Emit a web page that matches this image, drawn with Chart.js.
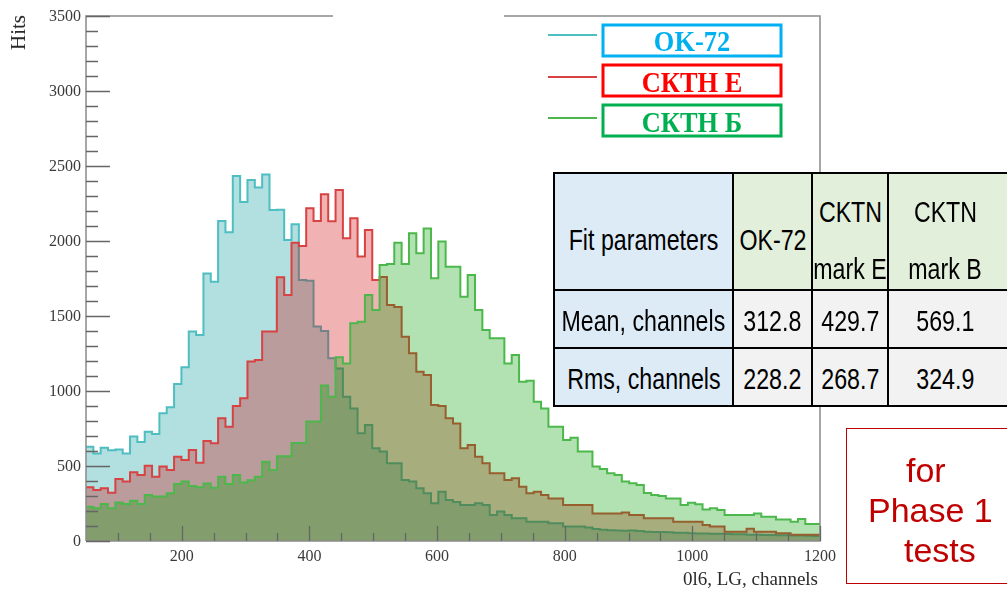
<!DOCTYPE html>
<html>
<head>
<meta charset="utf-8">
<title>Hits</title>
<script src="https://cdn.jsdelivr.net/npm/chart.js@4.4.1/dist/chart.umd.min.js"></script>
<style>
html, body { margin: 0; padding: 0; background: #fff; width: 1007px; height: 592px; overflow: hidden; }
#painel { position: relative; width: 1007px; height: 592px; overflow: hidden; }
#grafico { position: absolute; left: 0; top: 0; }
.celula { position: absolute; box-sizing: border-box; border: 2px solid #000; white-space: nowrap;
          display: flex; flex-direction: column; align-items: center; justify-content: flex-start;
          font-family: "Liberation Sans", Arial, sans-serif; font-size: 29px; color: #000; }
.celula span { display: block; transform: scaleX(0.8); }
#fase { position: absolute; left: 846px; top: 428px; width: 182px; height: 156px; box-sizing: border-box;
        border: 1.5px solid #c00000; color: #c00000; text-align: left; padding-top: 21px;
        font-family: "Liberation Sans", Arial, sans-serif; font-size: 34px; line-height: 40px; }
#fase div { position: relative; }
</style>
</head>
<body>
<div id="painel">
  <canvas id="grafico" width="1007" height="592"></canvas>
  <div id="tabela"></div>
  <div id="fase"><div style="left:59px">for</div><div style="left:21px">Phase 1</div><div style="left:57px">tests</div></div>
</div>
<script>
// canais: 100 bins de 11.5 entre 50 e 1200
const canalInicial = 50;
const larguraBin = 11.5;

const ok72 = [629, 584, 622, 605, 610, 584, 696, 660, 729, 713,
              851, 891, 1047, 1158, 1396, 1373, 1784, 1729, 2133, 2058,
              2433, 2260, 2407, 2356, 2444, 2207, 2209, 2007, 2111, 1740,
              1735, 1430, 1400, 1218, 1150, 962, 884, 718, 773, 618,
              596, 518, 518, 407, 396, 351, 318, 251, 329, 273,
              260, 240, 240, 251, 240, 173, 196, 173, 151, 151,
              129, 129, 129, 118, 118, 96, 96, 96, 90, 80,
              75, 72, 70, 68, 70, 66, 62, 60, 60, 58,
              55, 55, 52, 50, 50, 48, 48, 46, 45, 45,
              42, 42, 40, 40, 38, 38, 36, 36, 35, 34];

const cktnE = [358, 340, 351, 322, 413, 396, 458, 440, 502, 429,
               496, 473, 562, 540, 607, 522, 667, 651, 818, 762,
               900, 951, 1196, 1207, 1396, 1396, 1758, 1640, 1989, 1967,
               2218, 2133, 2311, 2131, 2340, 2018, 2151, 1896, 2073, 1740,
               1760, 1573, 1560, 1362, 1251, 1129, 1107, 907, 900, 818,
               784, 618, 640, 562, 518, 451, 451, 407, 418, 362,
               318, 329, 307, 284, 284, 240, 240, 240, 240, 184,
               184, 184, 184, 190, 173, 173, 151, 151, 151, 151,
               129, 129, 129, 129, 107, 96, 96, 62, 62, 62,
               81, 62, 62, 62, 52, 52, 41, 41, 41, 41];

const cktnB = [229, 218, 247, 218, 256, 247, 269, 247, 307, 296,
               296, 318, 380, 396, 367, 358, 384, 355, 429, 380,
               440, 390, 405, 429, 529, 473, 565, 565, 653, 653,
               796, 796, 1036, 962, 1225, 1184, 1451, 1462, 1640, 1540,
               1840, 1847, 1989, 1847, 2051, 1918, 2084, 1751, 1996, 1829,
               1829, 1629, 1773, 1540, 1407, 1351, 1351, 1184, 1240, 1062,
               1069, 929, 884, 762, 762, 673, 689, 596, 596, 496,
               480, 451, 440, 396, 385, 373, 320, 307, 300, 284,
               284, 240, 255, 245, 210, 218, 207, 173, 173, 173,
               173, 184, 162, 162, 144, 144, 129, 147, 113, 113];

const ticksY = [0, 500, 1000, 1500, 2000, 2500, 3000, 3500];
const ticksX = [200, 400, 600, 800, 1000, 1200];
const legendaTextos = ['OK-72', 'СКТН Е', 'СКТН Б'];

const cabecalho = ['Fit parameters', 'OK-72', 'CKTN|mark E', 'CKTN|mark B'];
const linhaMean = ['Mean, channels', '312.8', '429.7', '569.1'];
const linhaRms = ['Rms, channels', '228.2', '268.7', '324.9'];

function pontosHistograma(contagens) {
    let pontos = contagens.map((v, i) => ({ x: canalInicial + i * larguraBin, y: v }));
    pontos.push({ x: canalInicial + contagens.length * larguraBin, y: contagens[contagens.length - 1] });
    return pontos;
}

// eixos no estilo ROOT: moldura cinza, ticks para dentro
const eixosRoot = {
    id: 'eixosRoot',
    afterDatasetsDraw(chart) {
        const ctx = chart.ctx;
        const a = chart.chartArea;
        const sx = chart.scales.x, sy = chart.scales.y;
        ctx.save();

        ctx.strokeStyle = '#8a8a8a';
        ctx.lineWidth = 1.5;
        ctx.beginPath();
        ctx.moveTo(a.left, a.bottom);
        ctx.lineTo(a.left, a.top);
        ctx.lineTo(333, a.top);
        ctx.moveTo(504, a.top);
        ctx.lineTo(a.right, a.top);
        ctx.lineTo(a.right, a.bottom);
        ctx.lineTo(a.left, a.bottom);
        ctx.stroke();

        ctx.strokeStyle = '#666';
        ctx.lineWidth = 1.3;
        ctx.beginPath();
        for (let v = 0; v <= 3500; v += 100) {
            const py = Math.round(sy.getPixelForValue(v)) + 0.5;
            const len = (v % 500 === 0) ? 24 : 12;
            ctx.moveTo(a.left, py);
            ctx.lineTo(a.left + len, py);
        }
        for (let v = 100; v <= 1200; v += 50) {
            const px = Math.round(sx.getPixelForValue(v)) + 0.5;
            const len = (v % 200 === 0) ? 15 : 8;
            ctx.moveTo(px, a.bottom);
            ctx.lineTo(px, a.bottom - len);
        }
        ctx.stroke();

        ctx.fillStyle = '#3a3a3a';
        ctx.font = '16px "Liberation Serif"';
        ctx.textAlign = 'right';
        ctx.textBaseline = 'middle';
        ticksY.forEach(v => ctx.fillText(String(v), 81, sy.getPixelForValue(v) + 1));
        ctx.textAlign = 'center';
        ctx.textBaseline = 'alphabetic';
        ticksX.forEach(v => ctx.fillText(String(v), sx.getPixelForValue(v), 561));

        ctx.fillStyle = '#2a2a2a';
        ctx.font = '19px "Liberation Serif"';
        ctx.textAlign = 'right';
        ctx.fillText('0l6, LG, channels', a.right - 2, 585);

        ctx.font = '21px "Liberation Serif"';
        ctx.translate(25, a.top - 1);
        ctx.rotate(-Math.PI / 2);
        ctx.textAlign = 'right';
        ctx.fillText('Hits', 0, 0);
        ctx.restore();
    }
};

// legenda: amostra da linha + caixa colorida com o nome
const legendaCaixas = {
    id: 'legendaCaixas',
    afterDraw(chart) {
        const ctx = chart.ctx;
        const cores = ['#00b0f0', '#ff0000', '#00b050'];
        const linhasY = [35, 77, 118];
        const topos = [25, 65, 105];
        const bases = [51, 92, 132];
        ctx.save();
        legendaTextos.forEach((txt, i) => {
            ctx.strokeStyle = chart.data.datasets[i].borderColor;
            ctx.lineWidth = 2;
            ctx.beginPath();
            ctx.moveTo(548, linhasY[i]);
            ctx.lineTo(597, linhasY[i]);
            ctx.stroke();

            ctx.fillStyle = '#fff';
            ctx.fillRect(603, topos[i], 178, 31);
            ctx.strokeStyle = cores[i];
            ctx.lineWidth = 3;
            ctx.strokeRect(603, topos[i], 178, 31);

            ctx.save();
            ctx.fillStyle = cores[i];
            ctx.font = 'bold 30px "Liberation Serif"';
            ctx.textAlign = 'center';
            ctx.translate(692, bases[i]);
            ctx.scale(0.88, 1);
            ctx.fillText(txt, 0, 0);
            ctx.restore();
        });
        ctx.restore();
    }
};

const ctx = document.getElementById('grafico').getContext('2d');
new Chart(ctx, {
    type: 'line',
    data: {
        datasets: [{
            label: legendaTextos[0],
            data: pontosHistograma(ok72),
            stepped: true,
            fill: 'origin',
            borderColor: 'rgb(78,190,192)',
            backgroundColor: 'rgba(0,148,150,0.3)',
            borderWidth: 2,
            pointRadius: 0,
            order: 3
        }, {
            label: legendaTextos[1],
            data: pontosHistograma(cktnE),
            stepped: true,
            fill: 'origin',
            borderColor: 'rgb(216,66,66)',
            backgroundColor: 'rgba(205,0,0,0.3)',
            borderWidth: 2,
            pointRadius: 0,
            order: 2
        }, {
            label: legendaTextos[2],
            data: pontosHistograma(cktnB),
            stepped: true,
            fill: 'origin',
            borderColor: 'rgb(76,184,76)',
            backgroundColor: 'rgba(0,160,0,0.3)',
            borderWidth: 2,
            pointRadius: 0,
            order: 1
        }]
    },
    options: {
        responsive: false,
        animation: false,
        devicePixelRatio: 1,
        layout: { padding: { left: 86, right: 187, top: 16, bottom: 51 } },
        scales: {
            x: { type: 'linear', min: 50, max: 1200, display: false },
            y: { type: 'linear', min: 0, max: 3500, display: false }
        },
        plugins: {
            legend: { display: false },
            tooltip: { enabled: false }
        }
    },
    plugins: [eixosRoot, legendaCaixas]
});

// tabela de parametros do ajuste
const colunas = [554, 733, 812, 888, 1012];
const linhas = [173, 290, 348, 406];
const tabela = document.getElementById('tabela');
[cabecalho, linhaMean, linhaRms].forEach((linha, r) => {
    linha.forEach((texto, c) => {
        let cel = document.createElement('div');
        cel.className = 'celula';
        cel.style.left = (colunas[c] - 1) + 'px';
        cel.style.top = (linhas[r] - 1) + 'px';
        cel.style.width = (colunas[c + 1] - colunas[c] + 2) + 'px';
        cel.style.height = (linhas[r + 1] - linhas[r] + 2) + 'px';
        cel.style.background = c === 0 ? '#ddebf7' : (r === 0 ? '#e2efda' : '#f2f2f2');
        if (c === 3) cel.style.paddingRight = '10px';
        if (r === 0) {
            let partes = texto.split('|');
            cel.style.lineHeight = '57px';
            cel.style.paddingTop = (partes.length > 1 ? 10 : 38) + 'px';
            cel.innerHTML = partes.map(p => '<span>' + p + '</span>').join('');
        } else {
            cel.style.lineHeight = '56px';
            cel.style.paddingTop = '2px';
            cel.innerHTML = '<span>' + texto + '</span>';
        }
        tabela.appendChild(cel);
    });
});
</script>
</body>
</html>
